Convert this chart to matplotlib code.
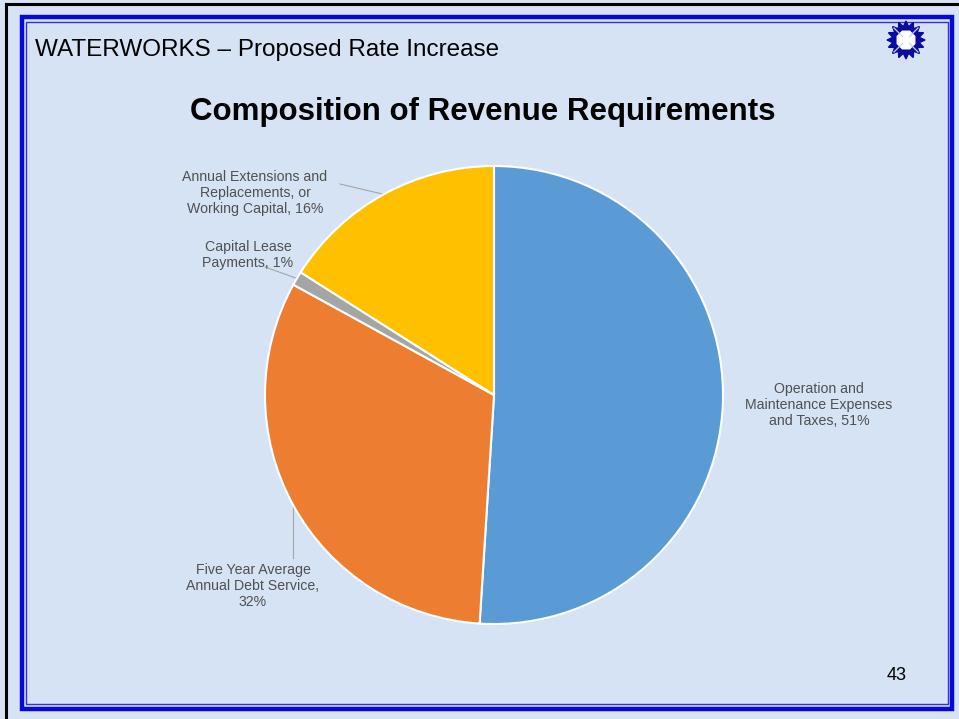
#!/usr/bin/env python3
# plot.py - composition of revenue requirements slide

import matplotlib.pyplot as plt
import numpy as np

categories = [
    "Operation and\nMaintenance Expenses\nand Taxes",
    "Five Year Average\nAnnual Debt Service",
    "Capital Lease\nPayments",
    "Annual Extensions and\nReplacements, or\nWorking Capital",
]
shares = [51, 32, 1, 16]
colors = ["#5B9BD5", "#ED7D31", "#A5A5A5", "#FFC000"]

header = "WATERWORKS \u2013 Proposed Rate Increase"
title = "Composition of Revenue Requirements"
page_no = "43"

# label centres in slide pixels, and where the leader line leaves the label
label_pos = [(819, 405), (253, 586), (248, 255), (255, 193)]
label_sep = [", ", ",\n", ", ", ", "]
leader_from = [None, (291, 558), (265, 267), (340, 184)]

W, H = 959, 719
BG = "#D5E3F5"
FONT = "Liberation Sans"


def draw_logo(bg, cx, cy):
    # small starburst logo, top right
    n = 16
    ang = np.linspace(0, 2 * np.pi, 2 * n, endpoint=False) + np.pi / 2
    r = np.where(np.arange(2 * n) % 2 == 0, 19, 13.5)
    bg.fill(cx + r * np.cos(ang), cy - r * np.sin(ang), color="#0A0A9E", zorder=5)
    a = np.linspace(0, 2 * np.pi, 9) + np.pi / 8
    bg.fill(cx + 9.5 * np.cos(a), cy - 9.5 * np.sin(a), color="white", zorder=6)
    for t in np.arange(4) * np.pi / 2 + np.pi / 4:
        bg.plot([cx + 5 * np.cos(t), cx + 17 * np.cos(t)],
                [cy - 5 * np.sin(t), cy - 17 * np.sin(t)],
                color="#C8D4F0", lw=0.9, zorder=6)


def main():
    fig = plt.figure(figsize=(W / 100, H / 100), dpi=100)
    fig.patch.set_facecolor(BG)

    bg = fig.add_axes([0, 0, 1, 1])
    bg.set_xlim(0, W)
    bg.set_ylim(H, 0)
    bg.axis("off")

    # slide frame
    bg.plot([6, 6], [H, 4], color="black", lw=2.2)
    bg.plot([6, W], [4, 4], color="black", lw=2.2)
    bg.add_patch(plt.Rectangle((22, 17), 929.5, 691.5, fill=False,
                               edgecolor="#0808D8", lw=3.2))
    bg.add_patch(plt.Rectangle((26, 21.5), 921.5, 682, fill=False,
                               edgecolor="#3030E0", lw=1.0))

    bg.text(35, 50, header, fontsize=17.5, family=FONT, va="center", ha="left")
    bg.text(483, 112, title, fontsize=22.5, family=FONT, weight="bold",
            va="center", ha="center")
    bg.text(897, 676, page_no, fontsize=13, family=FONT, va="center", ha="center")
    draw_logo(bg, 906, 40)

    # pie: centre (494, 395), radius 229 px
    cx, cy, rad = 494, 395, 229
    ax = fig.add_axes([(cx - rad) / W, (H - cy - rad) / H, 2 * rad / W, 2 * rad / H])
    wedges, _ = ax.pie(shares, colors=colors, startangle=90, counterclock=False,
                       radius=1, wedgeprops=dict(edgecolor="white", linewidth=1.5))
    ax.set_xlim(-1, 1)
    ax.set_ylim(-1, 1)
    ax.axis("off")

    to_bg = ax.transData + bg.transData.inverted()
    for w, cat, val, pos, sep, src in zip(wedges, categories, shares, label_pos,
                                          label_sep, leader_from):
        bg.text(pos[0], pos[1], f"{cat}{sep}{val}%", fontsize=10.2, family=FONT,
                color="#505050", ha="center", va="center", linespacing=1.2)
        if src is None:
            continue
        mid = np.deg2rad((w.theta1 + w.theta2) / 2)
        ex, ey = to_bg.transform((np.cos(mid), np.sin(mid)))
        if abs(src[0] - ex) < 5:
            bg.plot([ex, ex], [src[1], ey], color="#A6A6A6", lw=0.8)
        else:
            bg.plot([src[0], ex], [src[1], ey], color="#A6A6A6", lw=0.8)

    fig.savefig("out.png", dpi=100, facecolor=BG)


if __name__ == "__main__":
    main()
